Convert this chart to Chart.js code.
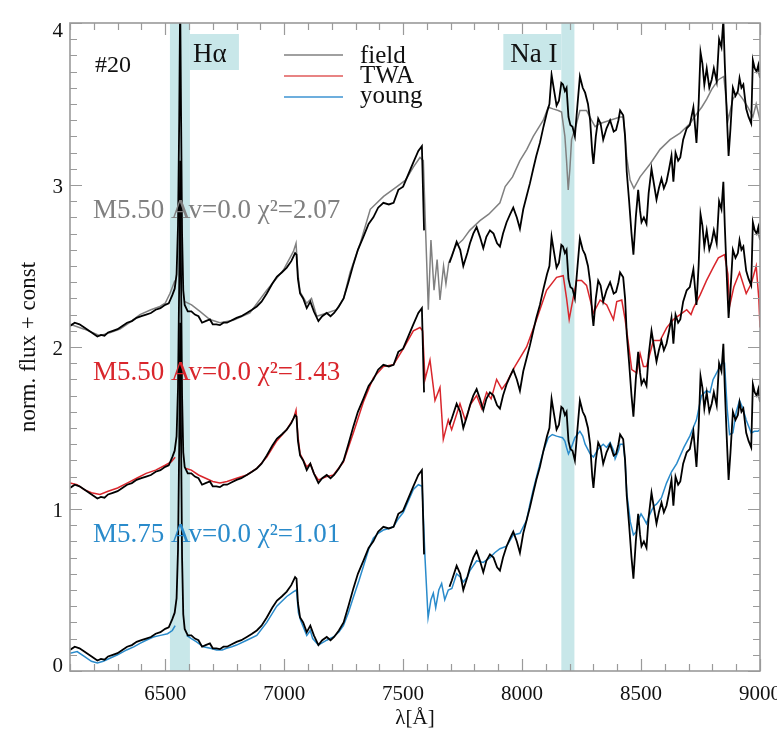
<!DOCTYPE html>
<html>
<head>
<meta charset="utf-8">
<title>#20 spectrum fit</title>
<script src="https://cdn.jsdelivr.net/npm/chart.js@4.4.1/dist/chart.umd.min.js"></script>
<style>
  html, body { margin: 0; padding: 0; background: #fff; }
  canvas { display: block; }
</style>
</head>
<body>
<canvas id="spec" width="777" height="729"></canvas>
<script>
// observed spectrum of #20 (normalised, no offset); null = masked telluric band
const obsWave = [
  6100,6120,6140,6160,6180,6200,6215,6230,6245,6260,
  6280,6300,6320,6340,6360,6380,6400,6420,6440,6460,
  6480,6500,6515,6530,6540,6548,6554,6559,6563,6567,
  6571,6576,6582,6595,6610,6625,6640,6655,6670,6688,
  6700,6715,6730,6745,6760,6780,6800,6820,6843,6865,
  6885,6905,6927,6950,6970,6990,7011,7030,7046,7052,
  7058,7067,7080,7095,7110,7125,7144,7160,7179,7195,
  7210,7230,7250,7270,7291,7310,7333,7355,7375,7395,
  7417,7440,7460,7480,7500,7520,7543,7564,7579,7588,
  7600,7695,7705,7725,7740,7753,7770,7781,7795,7809,
  7823,7837,7850,7865,7880,7895,7907,7920,7935,7950,
  7963,7978,7991,8005,8019,8033,8047,8060,8075,8090,
  8105,8115,8124,8135,8145,8155,8165,8172,8180,8187,
  8195,8203,8212,8222,8232,8243,8255,8265,8277,8286,
  8295,8300,8310,8320,8330,8341,8355,8370,8385,8395,
  8405,8412,8425,8433,8440,8450,8460,8468,8478,8488,
  8496,8502,8512,8523,8532,8544,8555,8565,8575,8586,
  8596,8607,8618,8628,8636,8645,8656,8665,8677,8692,
  8705,8720,8733,8742,8750,8758,8766,8776,8787,8797,
  8806,8818,8828,8838,8846,8852,8860,8868,8876,8886,
  8897,8907,8914,8922,8930,8942,8952,8963,8970,8978,
  8986,8993,9000
];
const obsFlux = [
  0.13,0.15,0.14,0.12,0.10,0.08,0.065,0.075,0.07,0.09,
  0.10,0.11,0.13,0.15,0.16,0.18,0.19,0.20,0.21,0.23,
  0.24,0.26,0.27,0.32,0.36,0.45,0.75,1.40,2.15,1.40,
  0.70,0.35,0.26,0.22,0.22,0.20,0.19,0.15,0.16,0.17,
  0.14,0.14,0.135,0.15,0.15,0.165,0.18,0.19,0.21,0.23,
  0.25,0.28,0.33,0.39,0.435,0.46,0.49,0.53,0.58,0.57,
  0.42,0.33,0.30,0.24,0.28,0.22,0.16,0.19,0.21,0.19,
  0.21,0.25,0.30,0.40,0.51,0.60,0.68,0.76,0.80,0.86,
  0.89,0.88,0.89,0.97,0.99,1.06,1.14,1.21,1.24,0.72,
  null,0.52,0.56,0.65,0.60,0.50,0.58,0.64,0.70,0.74,
  0.68,0.61,0.68,0.72,0.70,0.64,0.62,0.70,0.77,0.82,
  0.86,0.80,0.73,0.85,0.93,1.01,1.10,1.18,1.26,1.36,
  1.45,1.50,1.68,1.58,1.49,1.52,1.63,1.62,1.58,1.60,
  1.42,1.37,1.36,1.30,1.48,1.67,1.60,1.57,1.50,1.40,
  1.20,1.13,1.30,1.41,1.38,1.28,1.35,1.40,1.33,1.34,
  1.40,1.46,1.43,1.30,1.08,0.90,0.70,0.57,0.80,0.97,
  0.84,0.77,0.80,0.76,0.95,1.10,1.00,0.91,0.98,1.04,
  0.98,1.02,1.10,1.18,1.02,1.20,1.15,1.17,1.28,1.35,
  1.37,1.48,1.26,1.50,1.82,1.75,1.62,1.72,1.60,1.65,
  1.72,1.64,1.90,1.85,2.02,1.75,1.45,1.18,1.35,1.60,
  1.55,1.58,1.66,1.60,1.62,1.47,1.42,1.38,1.77,1.72,
  1.70,1.74,1.66
];

// best-fit templates (null = Halpha core not fitted)
const fieldWave = [
  6100,6160,6226,6270,6310,6350,6394,6440,6478,6500,
  6520,6541,6562,6583,6611,6646,6688,6730,6786,6856,
  6927,6997,7039,7050,7058,7067,7095,7115,7137,7180,
  7220,7250,7277,7320,7362,7418,7474,7510,7543,7571,
  7585,7595,7606,7617,7630,7643,7655,7670,7680,7692,
  7720,7750,7780,7823,7860,7907,7929,7960,7991,8020,
  8047,8089,8110,8130,8152,8166,8180,8187,8194,8201,
  8208,8229,8243,8271,8292,8307,8328,8370,8412,8426,
  8440,8454,8470,8496,8538,8580,8622,8664,8706,8734,
  8755,8776,8797,8825,8848,8866,8886,8907,8928,8949,
  8970,8984,9000
];
const fieldFlux = [
  0.14,0.11,0.07,0.09,0.11,0.15,0.20,0.23,0.25,0.27,
  0.33,0.41,null,0.28,0.26,0.22,0.17,0.15,0.165,0.21,
  0.35,0.475,0.59,0.64,0.45,0.34,0.27,0.30,0.19,0.21,
  0.23,0.30,0.46,0.64,0.85,0.93,0.99,1.03,1.11,1.17,
  1.15,0.70,0.23,0.66,0.35,0.54,0.29,0.50,0.39,0.52,
  0.62,0.66,0.72,0.78,0.82,0.89,0.99,1.05,1.15,1.22,
  1.30,1.40,1.48,1.47,1.46,1.45,1.30,1.15,0.97,1.10,
  1.28,1.38,1.46,1.46,1.40,1.36,1.38,1.40,1.42,1.42,
  1.17,1.03,0.98,1.05,1.13,1.22,1.28,1.32,1.38,1.44,
  1.48,1.53,1.59,1.65,1.67,1.40,1.53,1.57,1.53,1.48,
  1.42,1.50,1.40
];

const twaWave = [
  6100,6130,6160,6190,6226,6260,6300,6340,6380,6420,
  6460,6500,6525,6542,6566,6588,6610,6640,6670,6700,
  6730,6760,6800,6843,6885,6927,6969,7011,7040,7050,
  7058,7067,7095,7110,7125,7144,7179,7207,7249,7291,
  7333,7375,7417,7459,7501,7543,7571,7582,7592,7613,
  7634,7655,7669,7690,7704,7739,7761,7785,7809,7830,
  7851,7870,7893,7915,7935,7970,8019,8061,8103,8145,
  8173,8187,8198,8212,8229,8250,8271,8300,8328,8356,
  8384,8398,8419,8433,8440,8461,8482,8496,8510,8523,
  8552,8580,8608,8636,8664,8692,8710,8720,8748,8775,
  8803,8825,8851,8865,8872,8890,8914,8942,8963,8984,
  8995,9000
];
const twaFlux = [
  0.16,0.15,0.12,0.10,0.09,0.11,0.13,0.16,0.19,0.22,
  0.24,0.27,0.29,0.32,null,0.25,0.24,0.21,0.19,0.17,
  0.16,0.17,0.19,0.21,0.25,0.32,0.42,0.49,0.56,0.61,
  0.45,0.34,0.26,0.28,0.22,0.18,0.20,0.21,0.29,0.47,
  0.66,0.81,0.88,0.89,0.99,1.10,1.12,1.10,0.80,0.92,
  0.67,0.75,0.43,0.55,0.49,0.65,0.55,0.65,0.70,0.62,
  0.72,0.68,0.80,0.74,0.78,0.88,1.00,1.17,1.35,1.43,
  1.44,1.30,1.17,1.28,1.41,1.41,1.38,1.21,1.29,1.26,
  1.17,1.28,1.29,1.17,1.10,0.86,0.84,0.96,0.88,0.88,
  1.04,1.04,1.12,1.17,1.20,1.23,1.20,1.24,1.32,1.41,
  1.49,1.55,1.57,1.45,1.25,1.37,1.46,1.33,1.39,1.50,
  1.30,1.12
];

const youngWave = [
  6100,6130,6160,6190,6215,6240,6270,6300,6338,6370,
  6394,6420,6450,6480,6510,6530,6542,6566,6590,6610,
  6632,6660,6690,6716,6740,6758,6780,6800,6843,6885,
  6927,6969,7011,7040,7052,7060,7070,7095,7110,7120,
  7144,7179,7207,7230,7249,7270,7291,7315,7333,7355,
  7375,7395,7417,7440,7459,7480,7501,7522,7543,7564,
  7580,7592,7605,7617,7627,7637,7650,7662,7675,7690,
  7705,7725,7740,7753,7770,7781,7809,7837,7865,7885,
  7907,7935,7963,7991,8019,8033,8047,8075,8090,8110,
  8127,8145,8170,8180,8187,8195,8201,8212,8222,8243,
  8255,8265,8286,8300,8320,8341,8355,8370,8385,8391,
  8405,8412,8425,8433,8440,8455,8468,8480,8488,8500,
  8512,8523,8535,8544,8555,8565,8586,8607,8628,8650,
  8680,8705,8733,8754,8775,8790,8803,8825,8840,8851,
  8862,8872,8886,8900,8914,8928,8942,8955,8963,8977,
  8991,9000
];
const youngFlux = [
  0.11,0.12,0.09,0.06,0.05,0.06,0.08,0.10,0.13,0.15,
  0.17,0.19,0.21,0.22,0.23,0.25,0.28,null,0.22,0.20,
  0.18,0.15,0.14,0.13,0.13,0.14,0.15,0.16,0.19,0.22,
  0.30,0.40,0.46,0.49,0.50,0.36,0.31,0.22,0.25,0.20,
  0.16,0.19,0.21,0.24,0.28,0.36,0.455,0.56,0.645,0.75,
  0.82,0.85,0.87,0.88,0.89,0.94,0.98,1.05,1.12,1.15,
  1.14,0.70,0.33,0.44,0.48,0.39,0.50,0.54,0.44,0.50,
  0.51,0.60,0.58,0.55,0.58,0.62,0.68,0.67,0.70,0.73,
  0.755,0.77,0.84,0.85,0.93,1.03,1.12,1.28,1.36,1.44,
  1.46,1.45,1.44,1.42,1.38,1.34,1.36,1.40,1.44,1.48,
  1.45,1.40,1.34,1.32,1.37,1.40,1.38,1.41,1.36,1.31,
  1.36,1.40,1.40,1.30,1.10,0.92,0.84,0.86,0.93,0.97,
  0.94,0.91,0.96,0.99,1.02,1.03,1.07,1.16,1.23,1.28,
  1.38,1.45,1.55,1.70,1.73,1.72,1.80,1.86,1.90,1.90,
  1.62,1.46,1.47,1.60,1.67,1.62,1.55,1.50,1.47,1.48,
  1.48,1.49
];

// vertical offsets of the three panels, top to bottom
const groupOffsets = [2, 1, 0];
const fitLabels = ["M5.50 Av=0.0 \u03c7\u00b2=2.07", "M5.50 Av=0.0 \u03c7\u00b2=1.43", "M5.75 Av=0.0 \u03c7\u00b2=1.01"];
const seriesNames = ["field", "TWA", "young"];
const lineBands = [[6520, 6604], [8165, 8220]];
const bandNames = ["H\u03b1", "Na I"];
const xMajorTicks = [6500, 7000, 7500, 8000, 8500, 9000];
const yMajorTicks = [0, 1, 2, 3, 4];

const SERIF = "'Liberation Serif', 'DejaVu Serif', serif";
const COL = { obs: "#000000", field: "#808080", twa: "#d9262c", young: "#2a8bcb", band: "#c8e7e9", frame: "#9a9a9a" };
const legendCols = ["#808080", "#e05a5a", "#3c93d2"];

const toXY = (wave, flux, off) => wave.map((w, i) => ({ x: w, y: flux[i] === null ? null : flux[i] + off }));

const modelSets = [
  { wave: fieldWave, flux: fieldFlux, color: COL.field },
  { wave: twaWave,   flux: twaFlux,   color: COL.twa },
  { wave: youngWave, flux: youngFlux, color: COL.young },
];

const datasets = [];
groupOffsets.forEach((off, g) => {
  datasets.push({ label: "obs+" + off, data: toXY(obsWave, obsFlux, off), borderColor: COL.obs, borderWidth: 1.8, order: 0 });
  const m = modelSets[g];
  datasets.push({ label: seriesNames[g], data: toXY(m.wave, m.flux, off), borderColor: m.color, borderWidth: 1.5, order: 1 });
});

const decor = {
  id: "decor",
  beforeDatasetsDraw(chart) {
    const { ctx, chartArea: a, scales: { x } } = chart;
    ctx.save();
    ctx.fillStyle = COL.band;
    lineBands.forEach(([lo, hi]) => {
      const x0 = x.getPixelForValue(lo), x1 = x.getPixelForValue(hi);
      ctx.fillRect(x0, a.top, x1 - x0, a.bottom - a.top);
    });
    ctx.restore();
  },
  afterDatasetsDraw(chart) {
    const { ctx, chartArea: a, scales: { x, y } } = chart;
    ctx.save();

    // frame
    ctx.strokeStyle = COL.frame; ctx.lineWidth = 1.6;
    ctx.strokeRect(a.left, a.top, a.right - a.left, a.bottom - a.top);

    // inward ticks on all four sides
    ctx.lineWidth = 1.2;
    ctx.beginPath();
    for (let v = 6100; v <= 9000; v += 100) {
      const px = Math.round(x.getPixelForValue(v)) + 0.5;
      const len = xMajorTicks.includes(v) ? 12 : 7;
      ctx.moveTo(px, a.bottom); ctx.lineTo(px, a.bottom - len);
      ctx.moveTo(px, a.top);    ctx.lineTo(px, a.top + len);
    }
    for (let k = 0; k <= 40; k++) {
      const v = k / 10;
      const py = Math.round(y.getPixelForValue(v)) + 0.5;
      const len = k % 10 === 0 ? 12 : 7;
      ctx.moveTo(a.left, py);  ctx.lineTo(a.left + len, py);
      ctx.moveTo(a.right, py); ctx.lineTo(a.right - len, py);
    }
    ctx.stroke();

    // tick labels
    ctx.fillStyle = "#111";
    ctx.font = "21px " + SERIF;
    ctx.textAlign = "center"; ctx.textBaseline = "alphabetic";
    xMajorTicks.forEach(v => ctx.fillText(String(v), x.getPixelForValue(v), a.bottom + 29));
    ctx.textAlign = "right";
    yMajorTicks.forEach(v => {
      const py = y.getPixelForValue(v);
      const base = Math.min(Math.max(py + 8, a.top + 14), a.bottom + 1);
      ctx.fillText(String(v), a.left - 7, base);
    });

    // axis titles
    ctx.textAlign = "center";
    ctx.fillText("\u03bb[\u00c5]", (a.left + a.right) / 2, 724);
    ctx.save();
    ctx.font = "23px " + SERIF;
    ctx.translate(35, (a.top + a.bottom) / 2);
    ctx.rotate(-Math.PI / 2);
    ctx.fillText("norm. flux + const", 0, 0);
    ctx.restore();

    // line-band labels
    ctx.font = "27px " + SERIF;
    lineBands.forEach(([lo, hi], i) => {
      const w = i === 0 ? 49 : 58;
      const bx = i === 0 ? x.getPixelForValue(hi) : x.getPixelForValue(lo) - w;
      ctx.fillStyle = COL.band;
      ctx.fillRect(bx, 34, w, 36);
      ctx.fillStyle = "#111";
      ctx.textAlign = "left";
      ctx.fillText(bandNames[i], bx + (i === 0 ? 3 : 7), 62);
    });

    // object id
    ctx.font = "24px " + SERIF;
    ctx.fillText("#20", 95, 72);

    // legend
    ctx.font = "25px " + SERIF;
    seriesNames.forEach((name, i) => {
      const ly = 55 + i * 21;
      ctx.strokeStyle = legendCols[i]; ctx.lineWidth = 1.5;
      ctx.beginPath(); ctx.moveTo(284, ly); ctx.lineTo(343, ly); ctx.stroke();
      ctx.fillStyle = "#111";
      ctx.fillText(name, 360, 63 + i * 20);
    });

    // fit annotations
    ctx.font = "27px " + SERIF;
    const annCols = [COL.field, COL.twa, COL.young];
    const annBase = [218, 380, 542];
    fitLabels.forEach((t, i) => {
      ctx.fillStyle = annCols[i];
      ctx.fillText(t, 93, annBase[i]);
    });
    ctx.restore();
  }
};

new Chart(document.getElementById("spec"), {
  type: "line",
  data: { datasets },
  options: {
    responsive: false,
    animation: false,
    devicePixelRatio: 1,
    layout: { padding: { left: 70, right: 17, top: 23, bottom: 58 } },
    elements: { point: { radius: 0 }, line: { tension: 0 } },
    plugins: { legend: { display: false }, tooltip: { enabled: false } },
    scales: {
      x: {
        type: "linear", min: 6100, max: 9000,
        grid: { display: false, drawTicks: false }, border: { display: false },
        ticks: { display: false },
        afterFit(s) { s.height = 0; s.paddingLeft = 0; s.paddingRight = 0; }
      },
      y: {
        type: "linear", min: 0, max: 4,
        grid: { display: false, drawTicks: false }, border: { display: false },
        ticks: { display: false },
        afterFit(s) { s.width = 0; s.paddingTop = 0; s.paddingBottom = 0; }
      }
    }
  },
  plugins: [decor]
});
</script>
</body>
</html>
